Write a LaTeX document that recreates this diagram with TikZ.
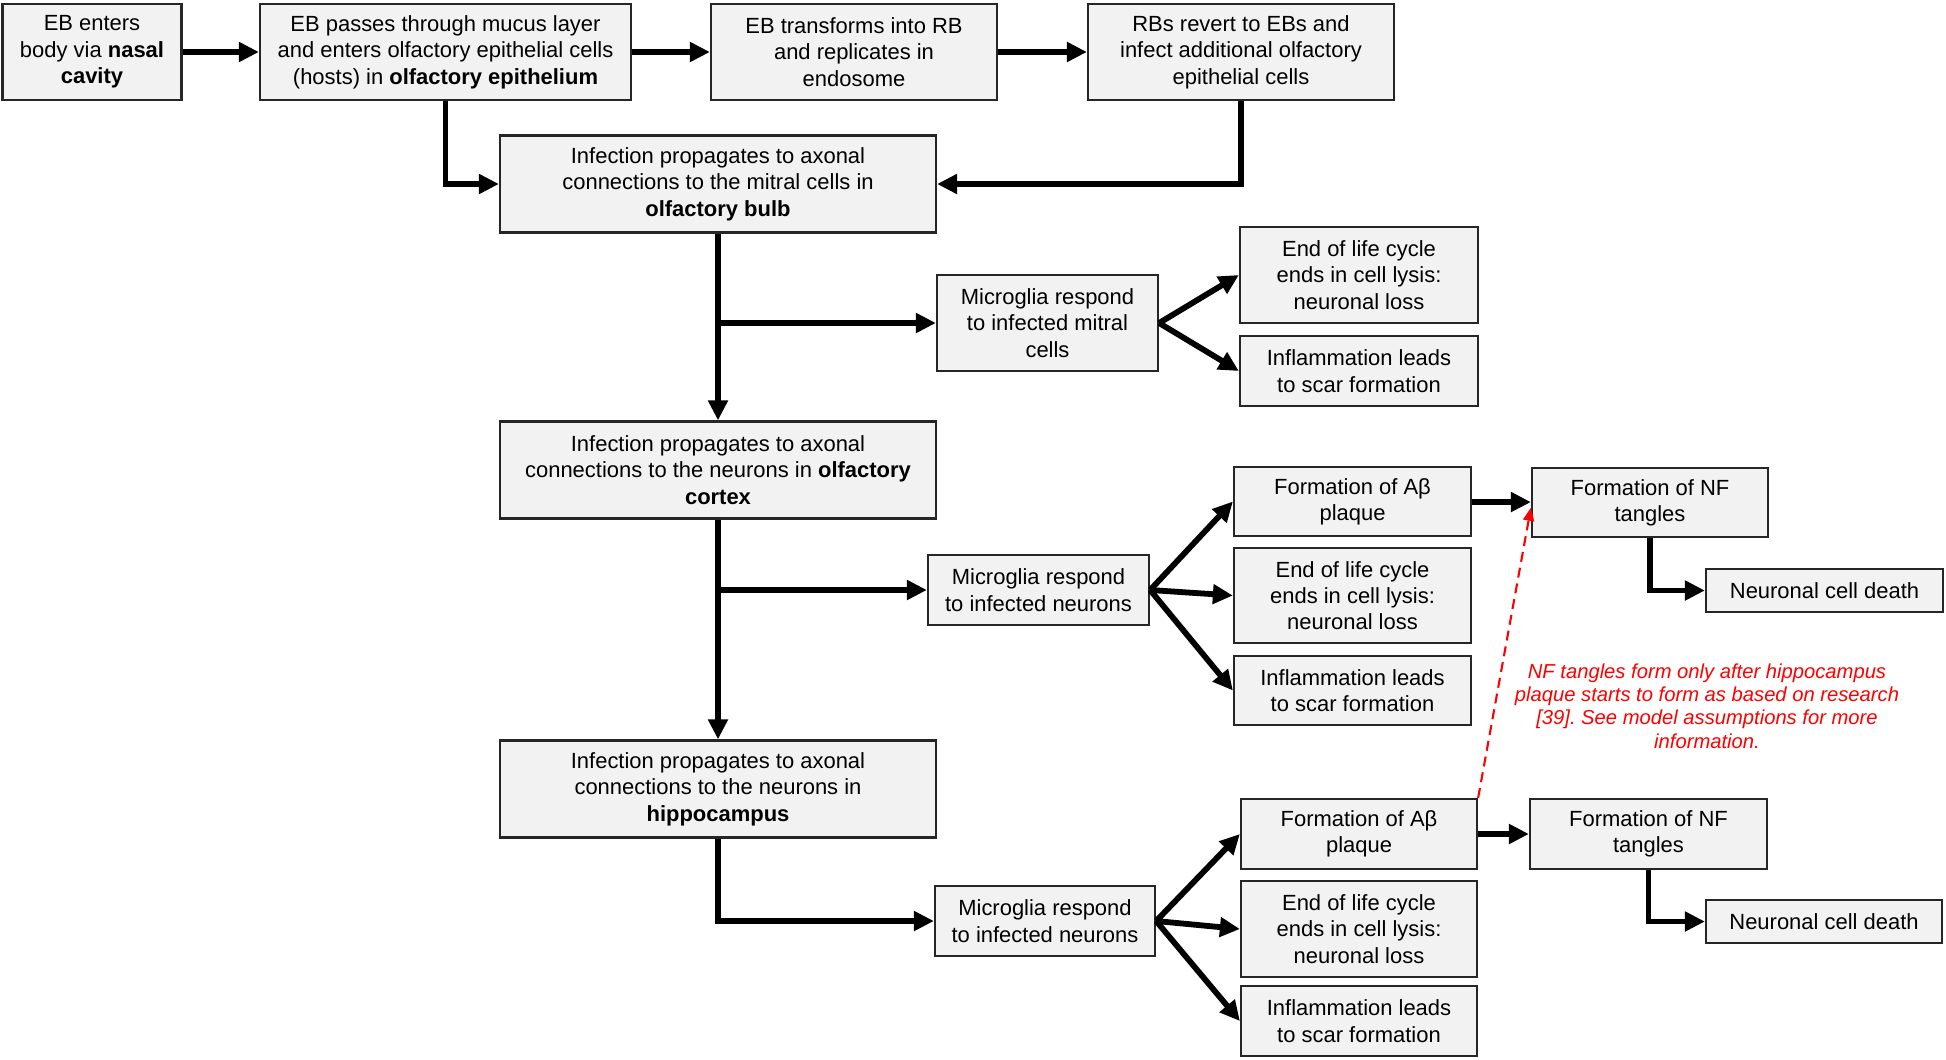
\documentclass[tikz,border=0pt]{standalone}
\usepackage{fontspec}
\setmainfont{Liberation Sans}
\usetikzlibrary{arrows.meta, positioning}
\definecolor{boxgray}{RGB}{242, 242, 242}
\definecolor{notered}{RGB}{255, 0, 0}
\frenchspacing

\begin{document}
\begin{tikzpicture}[x=0.02cm, y=-0.02cm,
    box/.style={draw=black!85, line width=1.3pt, fill=boxgray, align=center, inner sep=2pt,
        font=\fontsize{12.5}{15}\selectfont},
    flow/.style={line width=3.3pt, -{Triangle[length=0.4cm, width=0.38cm]}},
    hint/.style={notered, line width=1.2pt, dash pattern=on 0.2cm off 0.12cm,
        -{Triangle[length=0.26cm, width=0.22cm]}}]
\useasboundingbox (0,0) rectangle (1946,1059);

% Entry through the nose
\node[box, minimum width=3.58cm, minimum height=1.92cm] (nasal) at (92,52) {EB enters\\body via \textbf{nasal}\\\textbf{cavity}};
\node[box, minimum width=7.42cm, minimum height=1.92cm] (host) at (445.5,52) {EB passes through mucus layer\\and enters olfactory epithelial cells\\(hosts) in \textbf{olfactory epithelium}};
\node[box, minimum width=5.72cm, minimum height=1.92cm] (endo) at (854,52) {EB transforms into RB\\and replicates in\\endosome};
\node[box, minimum width=6.12cm, minimum height=1.92cm] (revert) at (1241,52) {RBs revert to EBs and\\infect additional olfactory\\epithelial cells};

% Spread along the axons
\node[box, minimum width=8.72cm, minimum height=1.94cm] (bulb) at (718,184) {Infection propagates to axonal\\connections to the mitral cells in\\\textbf{olfactory bulb}};
\node[box, minimum width=8.72cm, minimum height=1.94cm] (cortex) at (718,470) {Infection propagates to axonal\\connections to the neurons in \textbf{olfactory}\\\textbf{cortex}};
\node[box, minimum width=8.72cm, minimum height=1.94cm] (hippo) at (718,789) {Infection propagates to axonal\\connections to the neurons in\\\textbf{hippocampus}};

% Microglia
\node[box, minimum width=4.42cm, minimum height=1.92cm] (mg1) at (1047.5,323) {Microglia respond\\to infected mitral\\cells};
\node[box, minimum width=4.42cm, minimum height=1.40cm] (mg2) at (1038.5,590) {Microglia respond\\to infected neurons};
\node[box, minimum width=4.40cm, minimum height=1.40cm] (mg3) at (1045,921) {Microglia respond\\to infected neurons};

% Outcomes
\node[box, minimum width=4.76cm, minimum height=1.92cm] (lysis1) at (1359,275) {End of life cycle\\ends in cell lysis:\\neuronal loss};
\node[box, minimum width=4.76cm, minimum height=1.40cm] (scar1) at (1359,371) {Inflammation leads\\to scar formation};

\node[box, minimum width=4.74cm, minimum height=1.38cm] (plaque2) at (1352.5,501.5) {Formation of Aβ\\plaque};
\node[box, minimum width=4.74cm, minimum height=1.90cm] (lysis2) at (1352.5,595.5) {End of life cycle\\ends in cell lysis:\\neuronal loss};
\node[box, minimum width=4.74cm, minimum height=1.38cm] (scar2) at (1352.5,690.5) {Inflammation leads\\to scar formation};

\node[box, minimum width=4.72cm, minimum height=1.40cm] (plaque3) at (1359,834) {Formation of Aβ\\plaque};
\node[box, minimum width=4.72cm, minimum height=1.92cm] (lysis3) at (1359,929) {End of life cycle\\ends in cell lysis:\\neuronal loss};
\node[box, minimum width=4.72cm, minimum height=1.40cm] (scar3) at (1359,1021) {Inflammation leads\\to scar formation};

\node[box, minimum width=4.72cm, minimum height=1.38cm] (tangle2) at (1650,502.5) {Formation of NF\\tangles};
\node[box, minimum width=4.74cm, minimum height=0.86cm] (death2) at (1824.5,590.5) {Neuronal cell death};
\node[box, minimum width=4.74cm, minimum height=1.40cm] (tangle3) at (1648.5,834) {Formation of NF\\tangles};
\node[box, minimum width=4.72cm, minimum height=0.86cm] (death3) at (1824,921.5) {Neuronal cell death};

\node[align=center, text=notered, font=\fontsize{11.5}{13.2}\selectfont\itshape] (note) at (1707,706) {NF tangles form only after hippocampus\\plaque starts to form as based on research\\{[39]}. See model assumptions for more\\information.};

% Connections
\draw[flow] (nasal) -- (host);
\draw[flow] (host) -- (endo);
\draw[flow] (endo) -- (revert);
\draw[flow] (host.south) |- (bulb.west);
\draw[flow] (revert.south) |- (bulb.east);
\draw[flow] (bulb) -- (cortex);
\draw[flow] (cortex) -- (hippo);
\draw[flow] (bulb.south |- mg1.west) -- (mg1.west);
\draw[flow] (cortex.south |- mg2.west) -- (mg2.west);
\draw[flow] (hippo.south) |- (mg3.west);
\foreach \t in {lysis,scar}
    \draw[flow] (mg1.east) -- (\t1.west);
\foreach \g in {2,3} {
    \foreach \t in {plaque,lysis,scar}
        \draw[flow] (mg\g.east) -- (\t\g.west);
    \draw[flow] (plaque\g) -- (tangle\g);
    \draw[flow] (tangle\g.south) |- (death\g.west);
}
\draw[hint] (plaque3.north east) -- ([yshift=-3pt]tangle2.west);
\end{tikzpicture}
\end{document}
